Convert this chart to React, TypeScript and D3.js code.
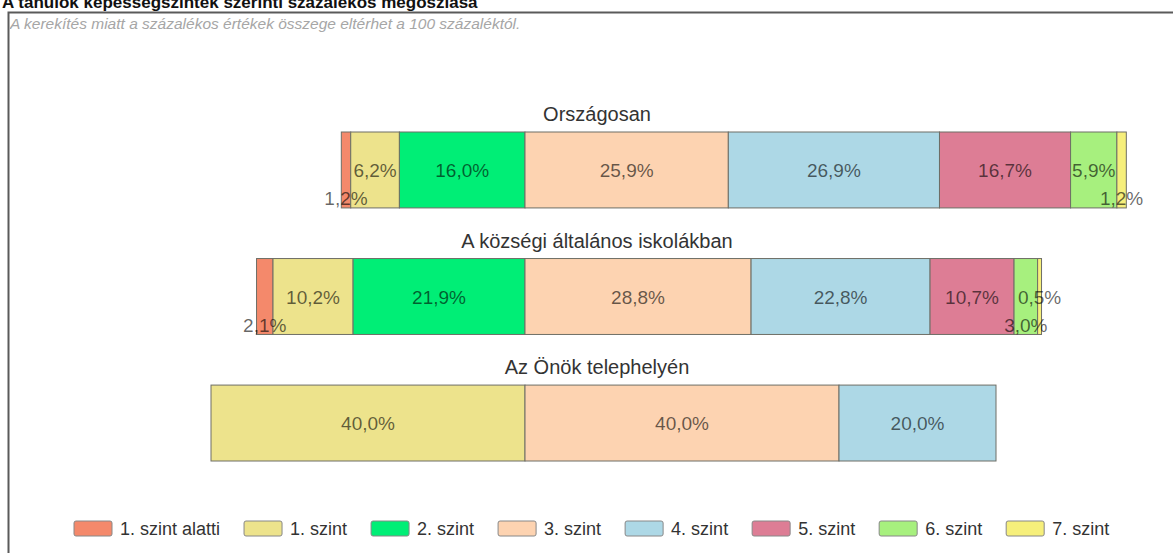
import React from 'react';
import * as d3 from 'd3';

const levels = ['1. szint alatti', '1. szint', '2. szint', '3. szint', '4. szint', '5. szint', '6. szint', '7. szint'];
const levelColors = ['#f4896b', '#ede38c', '#00ee76', '#fdd3b1', '#add8e6', '#dd7d95', '#a7f07e', '#f6ef7b'];
const groups = ['Országosan', 'A községi általános iskolákban', 'Az Önök telephelyén'];
const orszagosan = [1.2, 6.2, 16.0, 25.9, 26.9, 16.7, 5.9, 1.2];
const kozsegi = [2.1, 10.2, 21.9, 28.8, 22.8, 10.7, 3.0, 0.5];
const telephely = [0, 40.0, 0, 40.0, 20.0, 0, 0, 0];
// labels that do not fit are pushed down (per group, level index)
const lowLabels = [[0, 7], [0, 6], []];

const title = 'A tanulók képességszintek szerinti százalékos megoszlása';
const note = 'A kerekítés miatt a százalékos értékek összege eltérhet a 100 százaléktól.';

const FONT = '"Liberation Sans", Arial, Helvetica, sans-serif';

const App = () => {
    const width = 1173;
    const height = 553;
    const series = [orszagosan, kozsegi, telephely];

    // 3. szint starts at the zero line, levels below go to the left
    const xScale = d3.scaleLinear().domain([-40, 80]).range([211, 1153]);
    const yScale = d3.scaleBand().domain(groups).range([132, 461]).paddingInner(0.4);
    const titleX = 597;

    const fmt = (v: number) => d3.format('.1f')(v).replace('.', ',') + '%';

    const rows = series.map((vals, gi) => {
        let start = -d3.sum(vals.slice(0, 3));
        return vals.map((v, li) => {
            const seg = { group: groups[gi], gi, li, v, x0: start, x1: start + v };
            start += v;
            return seg;
        });
    });

    // legend layout from measured text widths
    const canvas = document.createElement('canvas');
    const ctx = canvas.getContext('2d')!;
    ctx.font = `18px ${FONT}`;
    const swW = 38, swH = 15, legendY = 521;
    let lx = 74;
    const legendItems = levels.map((name, i) => {
        const item = { name, color: levelColors[i], x: lx };
        lx += swW + 8 + ctx.measureText(name).width + 24;
        return item;
    });

    return (
        <svg width={width} height={height}
            style={{ position: 'absolute', left: 0, top: 0, display: 'block', background: '#fff' }}
            fontFamily={FONT}>
            <text x={2} y={8} fontSize={17} fontWeight="bold" fill="#111">{title}</text>
            <path d={`M8.5,${height} V12.5 H${width}`} fill="none" stroke="#5a5a5a" strokeWidth={2} />
            <text x={10} y={29} fontSize={15.5} fontStyle="italic" fill="#a6a6a6">{note}</text>

            {groups.map(g => (
                <text key={g} x={titleX} y={yScale(g)! - 11} textAnchor="middle" fontSize={20} fill="#333">{g}</text>
            ))}

            {rows.map((segs, gi) => (
                <g key={gi}>
                    {segs.filter(s => s.v > 0).map(s => (
                        <rect key={s.li}
                            x={xScale(s.x0)} y={yScale(s.group)}
                            width={xScale(s.x1) - xScale(s.x0)} height={yScale.bandwidth()}
                            fill={levelColors[s.li]} stroke="#6e6e66" strokeWidth={1} />
                    ))}
                    {segs.filter(s => s.v > 0).map(s => {
                        const low = lowLabels[gi].includes(s.li);
                        const cy = yScale(s.group)! + yScale.bandwidth() / 2;
                        return (
                            <text key={'l' + s.li}
                                x={xScale((s.x0 + s.x1) / 2)} y={cy + (low ? 35 : 7)}
                                textAnchor="middle" fontSize={19} fill="#000" fillOpacity={0.6}>
                                {fmt(s.v)}
                            </text>
                        );
                    })}
                </g>
            ))}

            {legendItems.map(it => (
                <g key={it.name}>
                    <rect x={it.x} y={legendY} width={swW} height={swH} rx={2}
                        fill={it.color} stroke="#888" strokeWidth={1} />
                    <text x={it.x + swW + 8} y={legendY + swH - 1} fontSize={18} fill="#333">{it.name}</text>
                </g>
            ))}
        </svg>
    );
};

export default App;
